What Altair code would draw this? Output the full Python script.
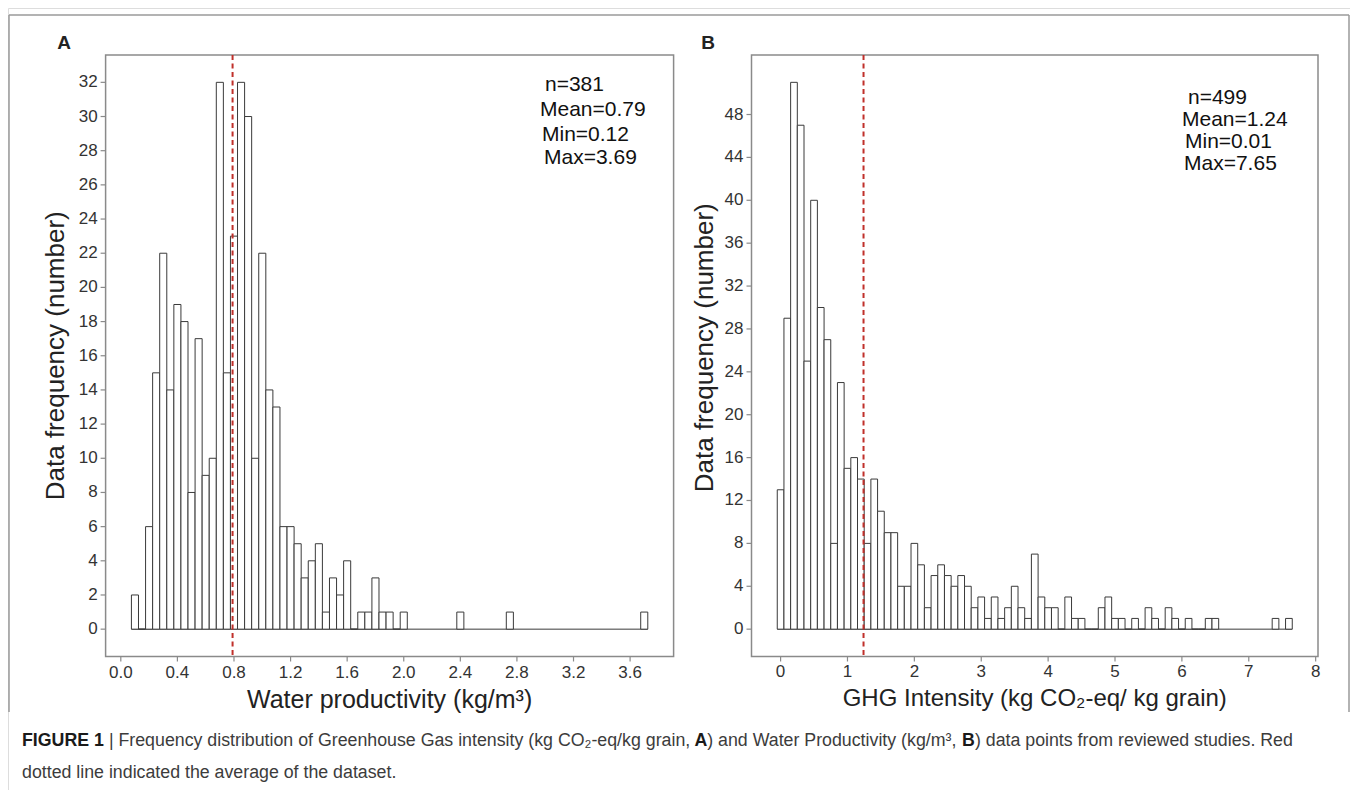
import altair as alt
import pandas as pd

# ---------------- data ----------------
# Panel A: water productivity histogram (bin width 0.05, bins centred on multiples of 0.05)
A_centers = [0.10, 0.15, 0.20, 0.25, 0.30, 0.35, 0.40, 0.45, 0.50, 0.55,
             0.60, 0.65, 0.70, 0.75, 0.80, 0.85, 0.90, 0.95, 1.00, 1.05,
             1.10, 1.15, 1.20, 1.25, 1.30, 1.35, 1.40, 1.45, 1.50, 1.55,
             1.60, 1.65, 1.70, 1.75, 1.80, 1.85, 1.90, 1.95, 2.00,
             2.40, 2.75, 3.70]
A_counts = [2, 0, 6, 15, 22, 14, 19, 18, 8, 17,
            9, 10, 32, 15, 23, 32, 30, 10, 22, 14,
            13, 6, 6, 5, 3, 4, 5, 1, 3, 2,
            4, 0, 1, 1, 3, 1, 1, 0, 1,
            1, 1, 1]
A_binwidth = 0.05
A_n, A_mean, A_min, A_max = 381, 0.79, 0.12, 3.69
A_xticks = [0.0, 0.4, 0.8, 1.2, 1.6, 2.0, 2.4, 2.8, 3.2, 3.6]
A_yticks = [0, 2, 4, 6, 8, 10, 12, 14, 16, 18, 20, 22, 24, 26, 28, 30, 32]

# Panel B: GHG intensity histogram (bin width 0.1, bins centred on multiples of 0.1)
B_centers = [0.0, 0.1, 0.2, 0.3, 0.4, 0.5, 0.6, 0.7, 0.8, 0.9,
             1.0, 1.1, 1.2, 1.3, 1.4, 1.5, 1.6, 1.7, 1.8, 1.9,
             2.0, 2.1, 2.2, 2.3, 2.4, 2.5, 2.6, 2.7, 2.8, 2.9,
             3.0, 3.1, 3.2, 3.3, 3.4, 3.5, 3.6, 3.7, 3.8, 3.9,
             4.0, 4.1, 4.2, 4.3, 4.4, 4.5, 4.6, 4.7, 4.8, 4.9,
             5.0, 5.1, 5.2, 5.3, 5.4, 5.5, 5.6, 5.7, 5.8, 5.9,
             6.0, 6.1, 6.2, 6.3, 6.4, 6.5,
             7.4, 7.6]
B_counts = [13, 29, 51, 47, 25, 40, 30, 27, 8, 23,
            15, 16, 14, 8, 14, 11, 9, 9, 4, 4,
            8, 6, 2, 5, 6, 5, 4, 5, 4, 2,
            3, 1, 3, 1, 2, 4, 2, 1, 7, 3,
            2, 2, 0, 3, 1, 1, 0, 0, 2, 3,
            1, 1, 0, 1, 0, 2, 1, 0, 2, 1,
            0, 1, 0, 0, 1, 1,
            1, 1]
B_binwidth = 0.1
B_n, B_mean, B_min, B_max = 499, 1.24, 0.01, 7.65
B_xticks = [0, 1, 2, 3, 4, 5, 6, 7, 8]
B_yticks = [0, 4, 8, 12, 16, 20, 24, 28, 32, 36, 40, 44, 48]

# ---------------- layout (pixels, relative to chart origin) ----------------
W, H = 1342, 782
TOP, BOT = 47, 648.5
A_L, A_R = 97.6, 665.6
B_L, B_R = 743.5, 1310.0
FONT = "Liberation Sans"
FRAME_COL = "#8a8a8a"
TXT = "#222222"
RED = "#c0302b"

xA = alt.Scale(domain=[-0.1075, 3.9075], range=[A_L, A_R], nice=False, zero=False)
yA = alt.Scale(domain=[-1.6, 33.6], range=[BOT, TOP], nice=False, zero=False)
xB = alt.Scale(domain=[-0.435, 8.035], range=[B_L, B_R], nice=False, zero=False)
yB = alt.Scale(domain=[-2.55, 53.55], range=[BOT, TOP], nice=False, zero=False)

one = pd.DataFrame({"k": [0]})


def panel(centers, counts, bw, mean, xticks, yticks, xfmt, xs, ys, left, right, xlab_y):
    df = pd.DataFrame({"c": centers, "n": counts})
    df["x1"] = df["c"] - bw / 2
    df["x2"] = df["c"] + bw / 2
    df["y0"] = 0
    bars = alt.Chart(df).mark_rect(fill="white", stroke="#3a3a3a", strokeWidth=1).encode(
        x=alt.X("x1:Q", scale=xs, axis=None), x2="x2:Q",
        y=alt.Y("n:Q", scale=ys, axis=None), y2="y0:Q")
    base = alt.Chart(df).transform_aggregate(lo="min(x1)", hi="max(x2)").transform_calculate(
        z="0").mark_rule(color="#3a3a3a", strokeWidth=1).encode(
        x=alt.X("lo:Q", scale=xs, axis=None), x2="hi:Q",
        y=alt.Y("z:Q", scale=ys, axis=None))
    frame = alt.Chart(one).mark_rect(fill=None, stroke=FRAME_COL, strokeWidth=1.5).encode(
        x=alt.value(left), x2=alt.value(right), y=alt.value(TOP), y2=alt.value(BOT))
    mline = alt.Chart(pd.DataFrame({"m": [mean]})).mark_rule(
        color=RED, strokeWidth=2, strokeDash=[5, 3.5]).encode(
        x=alt.X("m:Q", scale=xs, axis=None), y=alt.value(TOP), y2=alt.value(BOT))
    xt = pd.DataFrame({"v": xticks, "lab": [format(v, xfmt) for v in xticks]})
    yt = pd.DataFrame({"v": yticks, "lab": [str(v) for v in yticks]})
    xtick = alt.Chart(xt).mark_rule(color=FRAME_COL, strokeWidth=1.2).encode(
        x=alt.X("v:Q", scale=xs, axis=None), y=alt.value(BOT), y2=alt.value(BOT + 5))
    xlab = alt.Chart(xt).mark_text(font=FONT, fontSize=17, color="#333333",
                                   baseline="middle", align="center").encode(
        x=alt.X("v:Q", scale=xs, axis=None), y=alt.value(xlab_y), text="lab:N")
    ytick = alt.Chart(yt).mark_rule(color=FRAME_COL, strokeWidth=1.2).encode(
        y=alt.Y("v:Q", scale=ys, axis=None), x=alt.value(left - 5), x2=alt.value(left))
    ylab = alt.Chart(yt).mark_text(font=FONT, fontSize=17, color="#333333",
                                   baseline="middle", align="right").encode(
        y=alt.Y("v:Q", scale=ys, axis=None), x=alt.value(left - 8), text="lab:N")
    return alt.layer(frame, base, bars, mline, xtick, xlab, ytick, ylab)


pA = panel(A_centers, A_counts, A_binwidth, A_mean, A_xticks, A_yticks, ".1f", xA, yA,
           A_L, A_R, BOT + 16)
pB = panel(B_centers, B_counts, B_binwidth, B_mean, B_xticks, B_yticks, "d", xB, yB,
           B_L, B_R, BOT + 15)


def txt(s, x, y, size, bold=False, color=TXT, align="left", angle=0):
    kw = dict(font=FONT, fontSize=size, color=color, align=align, baseline="middle",
              fontWeight="bold" if bold else "normal")
    if angle:
        kw["angle"] = angle
    return alt.Chart(one).mark_text(**kw).encode(
        x=alt.value(x), y=alt.value(y), text=alt.value(s))


deco = []
# panel letters
deco.append(txt("A", 56, 35, 19, bold=True, align="center"))
deco.append(txt("B", 700, 35, 19, bold=True, align="center"))
# statistics boxes
A_lines = [f"n={A_n}", f"Mean={A_mean:.2f}", f"Min={A_min:.2f}", f"Max={A_max:.2f}"]
B_lines = [f"n={B_n}", f"Mean={B_mean:.2f}", f"Min={B_min:.2f}", f"Max={B_max:.2f}"]
for s, dx, yy in zip(A_lines, [5, 0, 2, 4], [77, 102, 127, 150]):
    deco.append(txt(s, 532 + dx, yy, 21, color="#111111"))
for s, dx, yy in zip(B_lines, [6, 0, 3, 2], [90, 112, 134, 156]):
    deco.append(txt(s, 1174 + dx, yy, 21, color="#111111"))
# axis titles
deco.append(txt("Water productivity (kg/m³)", (A_L + A_R) / 2, 692, 25, align="center"))
deco.append(txt("GHG Intensity (kg CO₂-eq/ kg grain)", (B_L + B_R) / 2, 691, 24, align="center"))
deco.append(txt("Data frequency (number)", 48, (TOP + BOT) / 2, 26, align="center", angle=270))
deco.append(txt("Data frequency (number)", 697, (TOP + BOT) / 2 - 8, 26, align="center", angle=270))

# outer border of the figure
bcol = "#9a9a9a"
deco.append(alt.Chart(one).mark_rule(color=bcol, strokeWidth=1.5).encode(
    x=alt.value(1), x2=alt.value(W - 1), y=alt.value(7)))
deco.append(alt.Chart(one).mark_rule(color=bcol, strokeWidth=1.5).encode(
    x=alt.value(1), y=alt.value(7), y2=alt.value(704)))
deco.append(alt.Chart(one).mark_rule(color=bcol, strokeWidth=1.5).encode(
    x=alt.value(W - 1), y=alt.value(7), y2=alt.value(704)))

# caption (segments laid out with Arial/Liberation Sans advance widths)
WN = {' ': 278, '!': 278, '(': 333, ')': 333, ',': 278, '-': 333, '.': 278, '/': 278,
      '0': 556, '1': 556, '2': 556, '3': 556, ':': 278, '|': 260, '₂': 333, '³': 333,
      'A': 667, 'B': 667, 'C': 722, 'D': 722, 'E': 667, 'F': 611, 'G': 778, 'H': 722,
      'I': 278, 'O': 778, 'P': 667, 'R': 722, 'S': 667, 'U': 722, 'W': 944,
      'a': 556, 'b': 556, 'c': 500, 'd': 556, 'e': 556, 'f': 278, 'g': 556, 'h': 556,
      'i': 222, 'j': 222, 'k': 500, 'l': 222, 'm': 833, 'n': 556, 'o': 556, 'p': 556,
      'q': 556, 'r': 333, 's': 500, 't': 278, 'u': 556, 'v': 500, 'w': 722, 'x': 500,
      'y': 500, 'z': 500}
WB = {' ': 278, 'F': 611, 'I': 278, 'G': 778, 'U': 722, 'R': 722, 'E': 667, '1': 556,
      'A': 722, 'B': 722}


def tw(s, size, bold):
    t = WB if bold else WN
    return sum(t.get(ch, 556) for ch in s) * size / 1000


line1 = [("FIGURE 1", True),
         (" | Frequency distribution of Greenhouse Gas intensity (kg CO₂-eq/kg grain, ", False),
         ("A", True),
         (") and Water Productivity (kg/m³, ", False),
         ("B", True),
         (") data points from reviewed studies. Red", False)]
line2 = "dotted line indicated the average of the dataset."
CX0, CX1 = 14, 1285
em = sum(tw(s, 1000, b) for s, b in line1) / 1000
csize = (CX1 - CX0) / em
x = CX0
for s, b in line1:
    lead = len(s) - len(s.lstrip(" "))
    xs_ = x + tw(" " * lead, csize, b)
    deco.append(txt(s.strip(" "), xs_, 733, csize, bold=b,
                    color="#1a1a1a" if b else "#3c3c3c"))
    x += tw(s, csize, b)
deco.append(txt(line2, CX0, 765, csize, color="#3c3c3c"))

chart = alt.layer(pA, pB, *deco).resolve_scale(x="independent", y="independent").properties(
    width=W, height=H, autosize=alt.AutoSizeParams(type="none"), padding=0
).configure_view(stroke=None).configure(background="white")

chart.save("out.html", embed_options={"renderer": "svg", "actions": False})
